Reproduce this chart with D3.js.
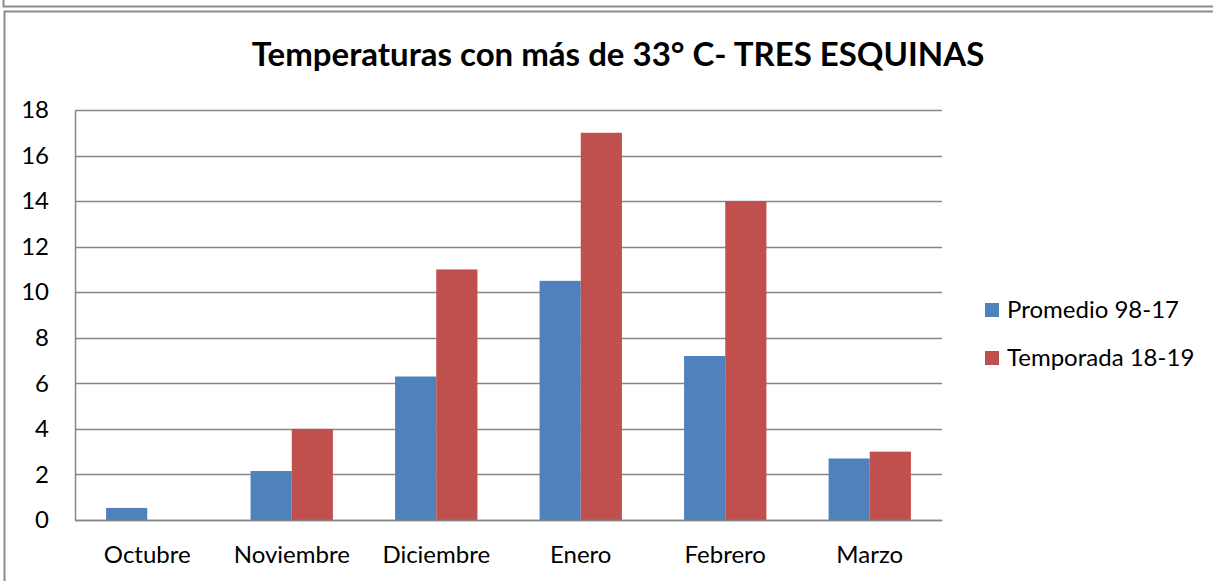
<!DOCTYPE html>
<html>
<head>
<meta charset="utf-8">
<script src="https://cdnjs.cloudflare.com/ajax/libs/d3/7.8.5/d3.min.js"></script>
<style>
  body { margin: 0; background: #fff; }
  svg { display: block; font-family: Lato, "Open Sans", sans-serif; }
</style>
</head>
<body>
<div id="chart"></div>
<script>
// data
const meses = ["Octubre", "Noviembre", "Diciembre", "Enero", "Febrero", "Marzo"];
const series = ["Promedio 98-17", "Temporada 18-19"];
const promedio = [0.53, 2.15, 6.3, 10.5, 7.2, 2.7];
const temporada = [0, 4, 11, 17, 14, 3];
const yTicks = [0, 2, 4, 6, 8, 10, 12, 14, 16, 18];
const colores = ["#4f81bd", "#c0504d"];

const W = 1213, H = 581;
const svg = d3.select("#chart").append("svg")
  .attr("width", W).attr("height", H);

// frames (chart sits in a document)
svg.append("path")
  .attr("d", "M3.5,0 V6.5 H1213")
  .attr("fill", "none").attr("stroke", "#8c8c8c").attr("stroke-width", 2);
svg.append("path")
  .attr("d", "M4.5,581 V11.5 H1213")
  .attr("fill", "none").attr("stroke", "#8c8c8c").attr("stroke-width", 2);

// title
svg.append("text")
  .attr("x", 618).attr("y", 66)
  .attr("text-anchor", "middle")
  .attr("font-size", 33).attr("font-weight", "bold")
  .text("Temperaturas con más de 33° C- TRES ESQUINAS");

const mLeft = 75, mRight = 942, mTop = 110, mBottom = 520;

const x0 = d3.scaleBand().domain(meses).range([mLeft, mRight]).paddingInner(0).paddingOuter(0);
const x1 = d3.scaleBand().domain(series).range([0, x0.bandwidth()]).paddingInner(0).paddingOuter(0.755);
const y = d3.scaleLinear().domain([0, 18]).range([mBottom, mTop]);

// gridlines
svg.append("g")
  .selectAll("line")
  .data(yTicks)
  .join("line")
  .attr("x1", mLeft).attr("x2", mRight)
  .attr("y1", d => Math.round(y(d)) + 0.5).attr("y2", d => Math.round(y(d)) + 0.5)
  .attr("stroke", "#868686").attr("stroke-width", 1.5);

// bars
const filas = meses.map((m, i) => ({ mes: m, valores: [promedio[i], temporada[i]] }));
svg.append("g")
  .selectAll("g")
  .data(filas)
  .join("g")
  .attr("transform", d => `translate(${x0(d.mes)},0)`)
  .selectAll("rect")
  .data(d => d.valores.map((v, j) => ({ serie: series[j], v, j })))
  .join("rect")
  .attr("x", d => x1(d.serie))
  .attr("width", x1.bandwidth())
  .attr("y", d => y(d.v))
  .attr("height", d => y(0) - y(d.v))
  .attr("fill", d => colores[d.j]);

// y axis
const yAxis = svg.append("g")
  .attr("transform", `translate(${mLeft},0)`)
  .call(d3.axisLeft(y).tickValues(yTicks).tickSize(0).tickPadding(26));
yAxis.select(".domain").attr("stroke", "#868686").attr("stroke-width", 1.5);
yAxis.selectAll("text").attr("font-size", 24).attr("font-family", "Lato, sans-serif").attr("fill", "#000");

// x axis
const xAxis = svg.append("g")
  .attr("transform", `translate(0,${mBottom})`)
  .call(d3.axisBottom(x0).tickSize(0).tickPadding(26));
xAxis.select(".domain").attr("stroke", "#868686").attr("stroke-width", 1.5);
xAxis.selectAll("text").attr("font-size", 24).attr("font-family", "Lato, sans-serif").attr("fill", "#000");

// legend
const leg = svg.append("g").attr("transform", "translate(985,303)");
const item = leg.selectAll("g").data(series).join("g")
  .attr("transform", (d, i) => `translate(0,${i * 48})`);
item.append("rect").attr("x", 0).attr("y", 0).attr("width", 14).attr("height", 14)
  .attr("fill", (d, i) => colores[i]);
item.append("text").attr("x", 22).attr("y", 15)
  .attr("font-size", 24).text(d => d);
</script>
</body>
</html>
